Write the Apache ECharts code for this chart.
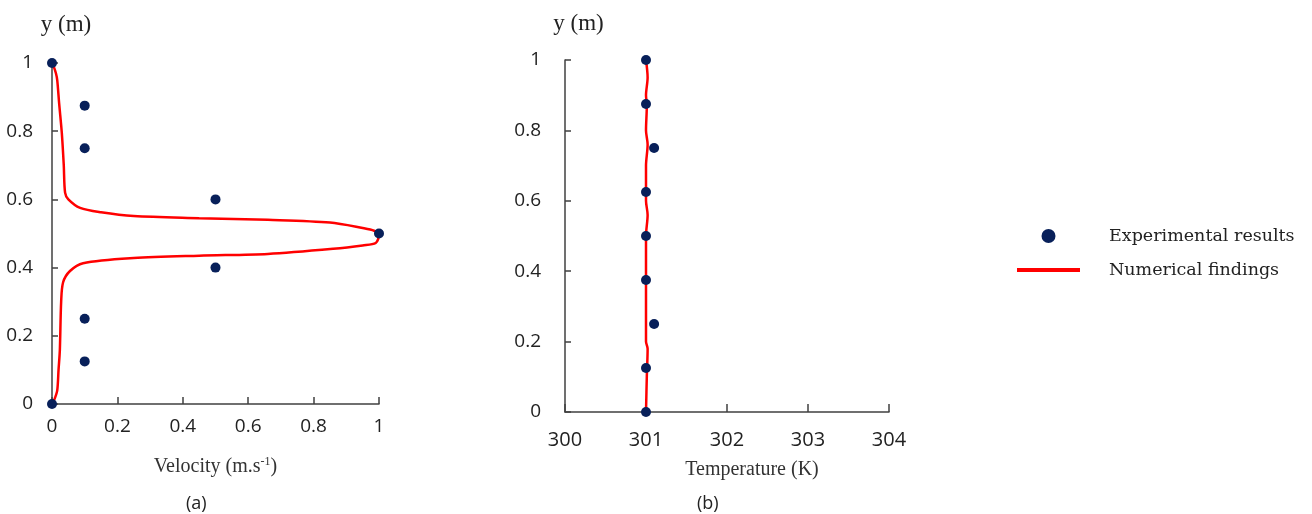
<!DOCTYPE html>
<html>
<head>
<meta charset="utf-8">
<script src="https://cdn.jsdelivr.net/npm/echarts@6/dist/echarts.min.js"></script>
<style>html,body{margin:0;padding:0;background:#fff}#c{width:1312px;height:514px}</style>
</head>
<body>
<div id="c"></div>
<script>
// ---- data ----
const expVelX = [0, 0.1, 0.1, 0.5, 1, 0.5, 0.1, 0.1, 0];
const expVelY = [1, 0.875, 0.75, 0.6, 0.5, 0.4, 0.25, 0.125, 0];
const numVelX = [0, 0.005, 0.012, 0.016, 0.022, 0.03, 0.036, 0.04, 0.05, 0.086, 0.15, 0.25, 0.45, 0.66, 0.85, 0.95, 0.985, 1.0, 0.99, 0.95, 0.86, 0.66, 0.45, 0.25, 0.095, 0.055, 0.034, 0.028, 0.024, 0.02, 0.016, 0.008, 0];
const numVelY = [1, 0.99, 0.97, 0.95, 0.88, 0.795, 0.7, 0.62, 0.6, 0.575, 0.562, 0.551, 0.545, 0.54, 0.532, 0.516, 0.508, 0.496, 0.472, 0.465, 0.455, 0.44, 0.435, 0.428, 0.413, 0.39, 0.357, 0.3, 0.158, 0.1, 0.04, 0.015, 0];
const expTempX = [301, 301, 301.1, 301, 301, 301, 301.1, 301, 301];
const expTempY = [1, 0.875, 0.75, 0.625, 0.5, 0.375, 0.25, 0.125, 0];
const numTempX = [301, 301.01, 301.02, 301.0, 301.0, 301.02, 301.0, 301.0, 301.02, 301.0, 301.01, 301.0, 301.02, 301.0];
const numTempY = [0, 0.1, 0.18, 0.2, 0.5, 0.56, 0.6, 0.7, 0.76, 0.8, 0.87, 0.9, 0.95, 1];
const velTicks = {min: 0, max: 1, interval: 0.2};
const tempTicks = {min: 300, max: 304, interval: 1};
const yTicks = {min: 0, max: 1, interval: 0.2};
const seriesNames = ['Experimental results', 'Numerical findings'];
const captions = ['(a)', '(b)'];

const zip = (a, b) => a.map((v, i) => [v, b[i]]);
const DOT = '#08205a', RED = '#ff0000', AX = '#404040';
const tickFont = {fontFamily: 'Open Sans', fontSize: 19, color: '#222'};
const serif = 'Liberation Serif';

const chart = echarts.init(document.getElementById('c'), null, {renderer: 'canvas'});
chart.setOption({
  animation: false,
  backgroundColor: '#fff',
  grid: [
    {left: 52, top: 63, width: 327, height: 341},
    {left: 565, top: 60, width: 324, height: 352}
  ],
  xAxis: [
    {gridIndex: 0, type: 'value', ...velTicks,
     name: 'Velocity (m.s{sup|-1})', nameLocation: 'middle', nameGap: 52,
     nameTextStyle: {fontFamily: serif, fontSize: 20, color: '#333',
       rich: {sup: {fontFamily: serif, fontSize: 12, color: '#333', verticalAlign: 'top', padding: [0, 0, 9, 0]}}},
     axisLine: {lineStyle: {color: AX, width: 1.5}},
     axisTick: {inside: true, length: 7, lineStyle: {color: AX, width: 1.5}},
     axisLabel: {...tickFont, margin: 13},
     splitLine: {show: false}},
    {gridIndex: 1, type: 'value', ...tempTicks,
     name: 'Temperature (K)', nameLocation: 'middle', nameGap: 48,
     nameTextStyle: {fontFamily: serif, fontSize: 20, color: '#333', padding: [0, 0, 0, 50]},
     axisLine: {lineStyle: {color: AX, width: 1.5}},
     axisTick: {inside: true, length: 8, lineStyle: {color: AX, width: 1.5}},
     axisLabel: {...tickFont, fontSize: 20, margin: 18},
     splitLine: {show: false}},
  ],
  yAxis: [
    {gridIndex: 0, type: 'value', ...yTicks,
     name: 'y (m)', nameLocation: 'end', nameGap: 27,
     nameTextStyle: {fontFamily: serif, fontSize: 23, color: '#222', padding: [0, 0, 0, 28]},
     axisLine: {lineStyle: {color: AX, width: 1.5}},
     axisTick: {inside: true, length: 6, lineStyle: {color: AX, width: 1.5}},
     axisLabel: {...tickFont, margin: 19},
     splitLine: {show: false}},
    {gridIndex: 1, type: 'value', ...yTicks,
     name: 'y (m)', nameLocation: 'end', nameGap: 25,
     nameTextStyle: {fontFamily: serif, fontSize: 23, color: '#222', padding: [0, 0, 0, 27]},
     axisLine: {lineStyle: {color: AX, width: 1.5}},
     axisTick: {inside: true, length: 6, lineStyle: {color: AX, width: 1.5}},
     axisLabel: {...tickFont, margin: 24},
     splitLine: {show: false}}
  ],
  legend: {
    orient: 'vertical', left: 1012, top: 222,
    itemWidth: 63, itemHeight: 14, itemGap: 16,
    data: [
      {name: seriesNames[0], icon: 'circle'},
      {name: seriesNames[1], icon: 'path://M0,0L63,0L63,4L0,4Z'}
    ],
    textStyle: {fontFamily: 'DejaVu Serif', fontSize: 17.5, color: '#222', padding: [0, 0, 0, 24]}
  },
  graphic: [
    {type: 'text', left: 186, top: 495, style: {text: captions[0], font: '18px "Open Sans"', fill: '#222'}},
    {type: 'text', left: 697, top: 495, style: {text: captions[1], font: '18px "Open Sans"', fill: '#222'}}
  ],
  series: [
    {name: seriesNames[1], type: 'line', xAxisIndex: 0, yAxisIndex: 0, data: zip(numVelX, numVelY),
     symbol: 'none', smooth: 0.3, lineStyle: {color: RED, width: 2.5}, itemStyle: {color: RED}, z: 2},
    {name: seriesNames[0], type: 'scatter', xAxisIndex: 0, yAxisIndex: 0, data: zip(expVelX, expVelY),
     symbolSize: 10, itemStyle: {color: DOT, opacity: 1}, z: 3},
    {name: seriesNames[1], type: 'line', xAxisIndex: 1, yAxisIndex: 1, data: zip(numTempX, numTempY),
     symbol: 'none', smooth: 0.3, lineStyle: {color: RED, width: 2.5}, itemStyle: {color: RED}, z: 2},
    {name: seriesNames[0], type: 'scatter', xAxisIndex: 1, yAxisIndex: 1, data: zip(expTempX, expTempY),
     symbolSize: 10, itemStyle: {color: DOT, opacity: 1}, z: 3}
  ]
});
</script>
</body>
</html>
